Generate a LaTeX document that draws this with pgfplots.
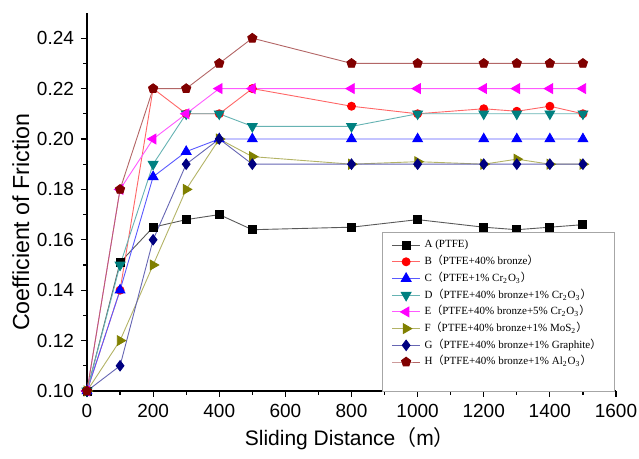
\documentclass[border=0pt]{standalone}
\usepackage{fontspec}
\setmainfont{Liberation Sans}
\newfontfamily\legfont{Liberation Serif}
\newfontfamily\cjk{Noto Sans CJK JP}
\usepackage{pgfplots}
\pgfplotsset{compat=1.18}

\definecolor{cA}{RGB}{0,0,0}
\definecolor{cB}{RGB}{255,0,0}
\definecolor{cC}{RGB}{0,0,255}
\definecolor{cD}{RGB}{0,128,128}
\definecolor{cE}{RGB}{255,0,255}
\definecolor{cF}{RGB}{128,128,0}
\definecolor{cG}{RGB}{0,0,128}
\definecolor{cH}{RGB}{128,0,0}

\newcommand{\fp}[1]{\smash{\cjk #1}}

\begin{document}
\begin{tikzpicture}
\useasboundingbox (-43.5pt,-34pt) rectangle (276pt,195.5pt);
\begin{axis}[
    at={(0,0)}, anchor=south west,
    width=264.5pt, height=189pt, scale only axis,
    axis x line*=bottom, axis y line*=left,
    xmin=0, xmax=1600, ymin=0.10, ymax=0.25,
    xtick={0,200,...,1600}, minor x tick num=1,
    ytick={0.10,0.12,...,0.241}, minor y tick num=1,
    tick align=outside,
    major tick length=3pt, minor tick length=1.8pt,
    every tick/.style={black, line width=0.6pt},
    axis line style={line width=0.7pt},
    /pgf/number format/assume math mode=true,
    /pgf/number format/1000 sep={},
    scaled y ticks=false,
    yticklabel style={/pgf/number format/.cd, fixed, fixed zerofill, precision=2},
    ticklabel style={font=\fontsize{9.5}{11}\selectfont},
    xlabel={Sliding Distance\fp{（}m\fp{）}},
    ylabel={Coefficient of Friction},
    xlabel style={at={(axis description cs:0.497,-0.13)}, anchor=center,
        font=\fontsize{10.5}{12}\selectfont},
    ylabel style={at={(axis description cs:-0.125,0.447)}, anchor=center,
        font=\fontsize{11.6}{13}\selectfont},
    legend style={at={(0.558,0.4206)}, anchor=north west, draw=gray!70,
        line width=0.5pt, font=\legfont\fontsize{5.5}{6.5}\selectfont,
        inner xsep=4.5pt, inner ysep=2.5pt, row sep=0.75pt,
        nodes={inner ysep=1pt, text height=4.2pt, text depth=1.4pt}},
    legend cell align=left,
    legend image code/.code={%
        \draw[mark repeat=2, mark phase=2] plot coordinates {(0pt,0pt) (7pt,0pt) (14pt,0pt)};},
    every axis plot/.append style={line width=0.45pt},
]
\addplot[color=cA!65, mark=square*, mark size=2pt, mark options={fill=cA, draw=cA}]
coordinates {(0,0.100) (100,0.151) (200,0.165) (300,0.168) (400,0.170) (500,0.164)
 (800,0.165) (1000,0.168) (1200,0.165) (1300,0.164) (1400,0.165) (1500,0.166)};
\addlegendentry{A (PTFE)}
\addplot[color=cB!60, mark=*, mark size=2pt, mark options={fill=cB, draw=cB}]
coordinates {(0,0.100) (100,0.140) (200,0.220) (300,0.210) (400,0.210) (500,0.220)
 (800,0.213) (1000,0.210) (1200,0.212) (1300,0.211) (1400,0.213) (1500,0.210)};
\addlegendentry{B\fp{（}PTFE+40\% bronze\fp{）}}
\addplot[color=cC!65, mark=triangle*, mark size=2.8pt, mark options={fill=cC, draw=cC}]
coordinates {(0,0.100) (100,0.140) (200,0.185) (300,0.195) (400,0.200) (500,0.200)
 (800,0.200) (1000,0.200) (1200,0.200) (1300,0.200) (1400,0.200) (1500,0.200)};
\addlegendentry{C\fp{（}PTFE+1\% Cr\textsubscript{2}O\textsubscript{3}\fp{）}}
\addplot[color=cD!60, mark=triangle*, mark size=2.8pt, mark options={fill=cD, draw=cD, rotate=180}]
coordinates {(0,0.100) (100,0.150) (200,0.190) (300,0.210) (400,0.210) (500,0.205)
 (800,0.205) (1000,0.210) (1200,0.210) (1300,0.210) (1400,0.210) (1500,0.210)};
\addlegendentry{D\fp{（}PTFE+40\% bronze+1\% Cr\textsubscript{2}O\textsubscript{3}\fp{）}}
\addplot[color=cE!65, mark=triangle*, mark size=2.8pt, mark options={fill=cE, draw=cE, rotate=90}]
coordinates {(0,0.100) (100,0.180) (200,0.200) (300,0.210) (400,0.220) (500,0.220)
 (800,0.220) (1000,0.220) (1200,0.220) (1300,0.220) (1400,0.220) (1500,0.220)};
\addlegendentry{E\fp{（}PTFE+40\% bronze+5\% Cr\textsubscript{2}O\textsubscript{3}\fp{）}}
\addplot[color=cF!60, mark=triangle*, mark size=2.8pt, mark options={fill=cF, draw=cF, rotate=-90}]
coordinates {(0,0.100) (100,0.120) (200,0.150) (300,0.180) (400,0.200) (500,0.193)
 (800,0.190) (1000,0.191) (1200,0.190) (1300,0.192) (1400,0.190) (1500,0.190)};
\addlegendentry{F\fp{（}PTFE+40\% bronze+1\% MoS\textsubscript{2}\fp{）}}
\addplot[color=cG!60, mark=diamond*, mark size=2.6pt, mark options={fill=cG, draw=cG}]
coordinates {(0,0.100) (100,0.110) (200,0.160) (300,0.190) (400,0.200) (500,0.190)
 (800,0.190) (1000,0.190) (1200,0.190) (1300,0.190) (1400,0.190) (1500,0.190)};
\addlegendentry{G\fp{（}PTFE+40\% bronze+1\% Graphite\fp{）}}
\addplot[color=cH!60, mark=pentagon*, mark size=2.4pt, mark options={fill=cH, draw=cH}]
coordinates {(0,0.100) (100,0.180) (200,0.220) (300,0.220) (400,0.230) (500,0.240)
 (800,0.230) (1000,0.230) (1200,0.230) (1300,0.230) (1400,0.230) (1500,0.230)};
\addlegendentry{H\fp{（}PTFE+40\% bronze+1\% Al\textsubscript{2}O\textsubscript{3}\fp{）}}
\addlegendimage{empty legend}
\addlegendentry{}
\end{axis}
\end{tikzpicture}
\end{document}
